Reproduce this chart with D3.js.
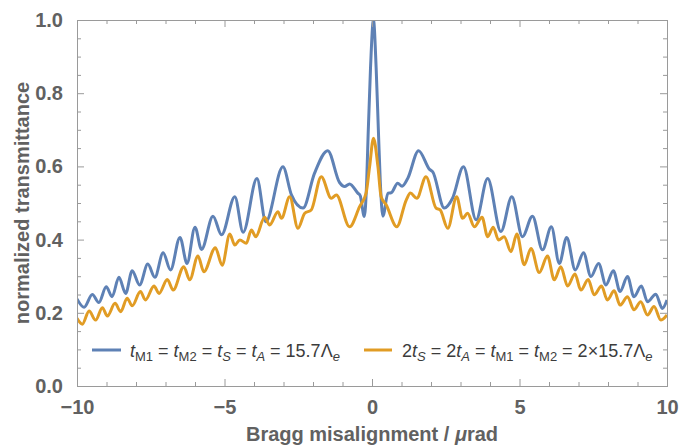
<!DOCTYPE html>
<html>
<head>
<meta charset="utf-8">
<script src="https://cdn.jsdelivr.net/npm/d3@7"></script>
<style>
  html, body { margin: 0; padding: 0; background: #fff; }
  svg { display: block; }
  text { font-family: "Liberation Sans", Arial, sans-serif; }
</style>
</head>
<body>
<svg id="chart" width="698" height="446"></svg>
<script>
// ---- data ----
const blueX = [-10, -9.76, -9.48, -9.26, -9.01, -8.81, -8.58, -8.35, -8.13, -7.88, -7.60, -7.36, -7.08, -6.83, -6.51, -6.27, -6.0, -5.78, -5.39, -5.1, -4.65, -4.37, -3.9, -3.6, -3.02, -2.73, -2.34, -1.95, -1.5, -1.1, -0.93, -0.76, -0.48, -0.4, -0.26, -0.18, -0.13, -0.05, 0.05, 0.14, 0.22, 0.28, 0.37, 0.54, 0.65, 0.87, 1.02, 1.21, 1.58, 1.95, 2.06, 2.45, 2.73, 3.1, 3.53, 3.92, 4.37, 4.74, 5.1, 5.44, 5.78, 6.08, 6.35, 6.6, 6.89, 7.17, 7.42, 7.68, 7.93, 8.18, 8.41, 8.66, 8.88, 9.13, 9.34, 9.62, 9.84, 10];
const blueY = [0.238, 0.215, 0.25, 0.228, 0.271, 0.244, 0.297, 0.253, 0.315, 0.276, 0.333, 0.297, 0.364, 0.317, 0.406, 0.335, 0.434, 0.373, 0.464, 0.413, 0.517, 0.42, 0.567, 0.449, 0.599, 0.522, 0.486, 0.581, 0.643, 0.556, 0.545, 0.552, 0.527, 0.52, 0.463, 0.56, 0.69, 0.87, 1.0, 0.87, 0.69, 0.56, 0.464, 0.527, 0.528, 0.554, 0.546, 0.567, 0.643, 0.592, 0.585, 0.486, 0.513, 0.599, 0.454, 0.567, 0.422, 0.517, 0.408, 0.464, 0.372, 0.435, 0.335, 0.406, 0.317, 0.364, 0.299, 0.335, 0.276, 0.315, 0.258, 0.299, 0.244, 0.273, 0.23, 0.251, 0.212, 0.235];

const orangeX = [-10, -9.82, -9.59, -9.37, -9.14, -8.97, -8.71, -8.52, -8.30, -8.13, -7.85, -7.68, -7.39, -7.22, -6.94, -6.74, -6.38, -6.18, -5.9, -5.70, -5.31, -5.08, -4.82, -4.65, -4.48, -4.26, -4.09, -3.94, -3.64, -3.47, -3.19, -3.07, -2.79, -2.51, -2.28, -2.06, -1.72, -1.38, -1.21, -0.76, -0.42, -0.2, -0.08, 0.05, 0.2, 0.31, 0.48, 0.84, 1.16, 1.30, 1.52, 1.83, 2.17, 2.31, 2.57, 2.87, 3.07, 3.24, 3.47, 3.73, 3.92, 4.11, 4.29, 4.48, 4.71, 4.91, 5.16, 5.39, 5.67, 5.95, 6.18, 6.40, 6.63, 6.88, 7.08, 7.33, 7.53, 7.78, 7.98, 8.21, 8.41, 8.66, 8.88, 9.11, 9.34, 9.56, 9.79, 10];
const orangeY = [0.185, 0.169, 0.205, 0.18, 0.214, 0.191, 0.226, 0.203, 0.24, 0.219, 0.258, 0.235, 0.273, 0.253, 0.291, 0.262, 0.326, 0.29, 0.355, 0.312, 0.378, 0.33, 0.415, 0.385, 0.399, 0.39, 0.426, 0.408, 0.461, 0.44, 0.476, 0.458, 0.517, 0.431, 0.472, 0.481, 0.572, 0.513, 0.522, 0.435, 0.49, 0.527, 0.6, 0.677, 0.6, 0.517, 0.495, 0.435, 0.508, 0.527, 0.513, 0.572, 0.486, 0.481, 0.431, 0.517, 0.458, 0.472, 0.435, 0.461, 0.408, 0.434, 0.399, 0.408, 0.367, 0.415, 0.331, 0.376, 0.31, 0.355, 0.29, 0.326, 0.273, 0.306, 0.262, 0.291, 0.249, 0.273, 0.235, 0.26, 0.221, 0.244, 0.208, 0.23, 0.194, 0.217, 0.18, 0.194];

const xMajorTicks = [-10, -5, 0, 5, 10];
const xMinorTicks = [-9, -8, -7, -6, -4, -3, -2, -1, 1, 2, 3, 4, 6, 7, 8, 9];
const yMajorTicks = [0.0, 0.2, 0.4, 0.6, 0.8, 1.0];
const yMinorTicks = [0.05, 0.1, 0.15, 0.25, 0.3, 0.35, 0.45, 0.5, 0.55, 0.65, 0.7, 0.75, 0.85, 0.9, 0.95];

const colors = { blue: "#5E81B5", orange: "#E19C24" };

// ---- layout ----
const L = 77, R = 667, T = 20, B = 386;
const svg = d3.select("#chart");
const x = d3.scaleLinear().domain([-10, 10]).range([L, R]);
const y = d3.scaleLinear().domain([0, 1]).range([B, T]);

const frameColor = "#9a9a9a";
const labelColor = "#616161";

// clip
svg.append("defs").append("clipPath").attr("id", "clip")
  .append("rect").attr("x", L).attr("y", T).attr("width", R - L).attr("height", B - T);

// curves
const line = d3.line().x(d => x(d[0])).y(d => y(d[1])).curve(d3.curveMonotoneX);
const blue = blueX.map((v, i) => [v, blueY[i]]);
const orange = orangeX.map((v, i) => [v, orangeY[i]]);
const g = svg.append("g").attr("clip-path", "url(#clip)");
g.append("path").datum(blue).attr("d", line).attr("fill", "none")
  .attr("stroke", colors.blue).attr("stroke-width", 3).attr("stroke-linejoin", "round");
g.append("path").datum(orange).attr("d", line).attr("fill", "none")
  .attr("stroke", colors.orange).attr("stroke-width", 3).attr("stroke-linejoin", "round");

// axes (ticks inward)
function styleAxis(sel) {
  sel.selectAll(".domain").attr("stroke", frameColor).attr("stroke-width", 1);
  sel.selectAll(".tick line").attr("stroke", frameColor).attr("stroke-width", 1);
  sel.selectAll(".tick text").attr("fill", labelColor)
    .attr("font-size", 20).attr("font-weight", "bold");
}
const fmtX = d => (d < 0 ? "\u2212" + Math.abs(d) : String(d));
// bottom
svg.append("g").attr("transform", `translate(0,${B})`)
  .call(d3.axisBottom(x).tickValues(xMajorTicks).tickSize(-7).tickPadding(19).tickFormat(fmtX))
  .call(styleAxis)
  .call(s => s.selectAll(".tick text").attr("dy", "0").attr("y", 28));
svg.append("g").attr("transform", `translate(0,${B})`)
  .call(d3.axisBottom(x).tickValues(xMinorTicks).tickSize(-4).tickFormat(""))
  .call(styleAxis);
// top
svg.append("g").attr("transform", `translate(0,${T})`)
  .call(d3.axisTop(x).tickValues(xMajorTicks).tickSize(-7).tickFormat(""))
  .call(styleAxis);
svg.append("g").attr("transform", `translate(0,${T})`)
  .call(d3.axisTop(x).tickValues(xMinorTicks).tickSize(-4).tickFormat(""))
  .call(styleAxis);
// left
svg.append("g").attr("transform", `translate(${L},0)`)
  .call(d3.axisLeft(y).tickValues(yMajorTicks).tickSize(-7).tickPadding(14).tickFormat(d3.format(".1f")))
  .call(styleAxis);
svg.append("g").attr("transform", `translate(${L},0)`)
  .call(d3.axisLeft(y).tickValues(yMinorTicks).tickSize(-4).tickFormat(""))
  .call(styleAxis);
// right
svg.append("g").attr("transform", `translate(${R},0)`)
  .call(d3.axisRight(y).tickValues(yMajorTicks).tickSize(-7).tickFormat(""))
  .call(styleAxis);
svg.append("g").attr("transform", `translate(${R},0)`)
  .call(d3.axisRight(y).tickValues(yMinorTicks).tickSize(-4).tickFormat(""))
  .call(styleAxis);

// axis labels
svg.append("text")
  .attr("transform", `translate(29,${(T + B) / 2}) rotate(-90)`)
  .attr("text-anchor", "middle").attr("fill", labelColor)
  .attr("font-size", 20).attr("font-weight", "bold")
  .text("normalized transmittance");
const xl = svg.append("text")
  .attr("x", (L + R) / 2).attr("y", 441)
  .attr("text-anchor", "middle").attr("fill", labelColor)
  .attr("font-size", 20).attr("font-weight", "bold");
xl.append("tspan").text("Bragg misalignment / ");
xl.append("tspan").attr("font-style", "italic").text("\u03bc");
xl.append("tspan").text("rad");

// legend
const legendY = 350;
const legendColor = "#3c3c3c";
function legendText(xPos, parts) {
  const t = svg.append("text").attr("x", xPos).attr("y", legendY + 7)
    .attr("fill", legendColor).attr("font-size", 18);
  parts.forEach(p => {
    const ts = t.append("tspan").text(p.s);
    if (p.i) ts.attr("font-style", "italic");
    if (p.sub) ts.attr("font-size", 13).attr("dy", 4);
    if (p.up) ts.attr("dy", -4);
  });
}
svg.append("line").attr("x1", 92).attr("x2", 121).attr("y1", legendY).attr("y2", legendY)
  .attr("stroke", colors.blue).attr("stroke-width", 3);
legendText(130, [
  {s: "t", i: 1}, {s: "M1", sub: 1}, {s: " = ", up: 1},
  {s: "t", i: 1}, {s: "M2", sub: 1}, {s: " = ", up: 1},
  {s: "t", i: 1}, {s: "S", sub: 1, i: 1}, {s: " = ", up: 1},
  {s: "t", i: 1}, {s: "A", sub: 1, i: 1}, {s: " = 15.7\u039b", up: 1},
  {s: "e", sub: 1, i: 1}
]);
svg.append("line").attr("x1", 364).attr("x2", 392).attr("y1", legendY).attr("y2", legendY)
  .attr("stroke", colors.orange).attr("stroke-width", 3);
legendText(402, [
  {s: "2"}, {s: "t", i: 1}, {s: "S", sub: 1, i: 1}, {s: " = 2", up: 1},
  {s: "t", i: 1}, {s: "A", sub: 1, i: 1}, {s: " = ", up: 1},
  {s: "t", i: 1}, {s: "M1", sub: 1}, {s: " = ", up: 1},
  {s: "t", i: 1}, {s: "M2", sub: 1}, {s: " = 2\u00d715.7\u039b", up: 1},
  {s: "e", sub: 1, i: 1}
]);
</script>
</body>
</html>
